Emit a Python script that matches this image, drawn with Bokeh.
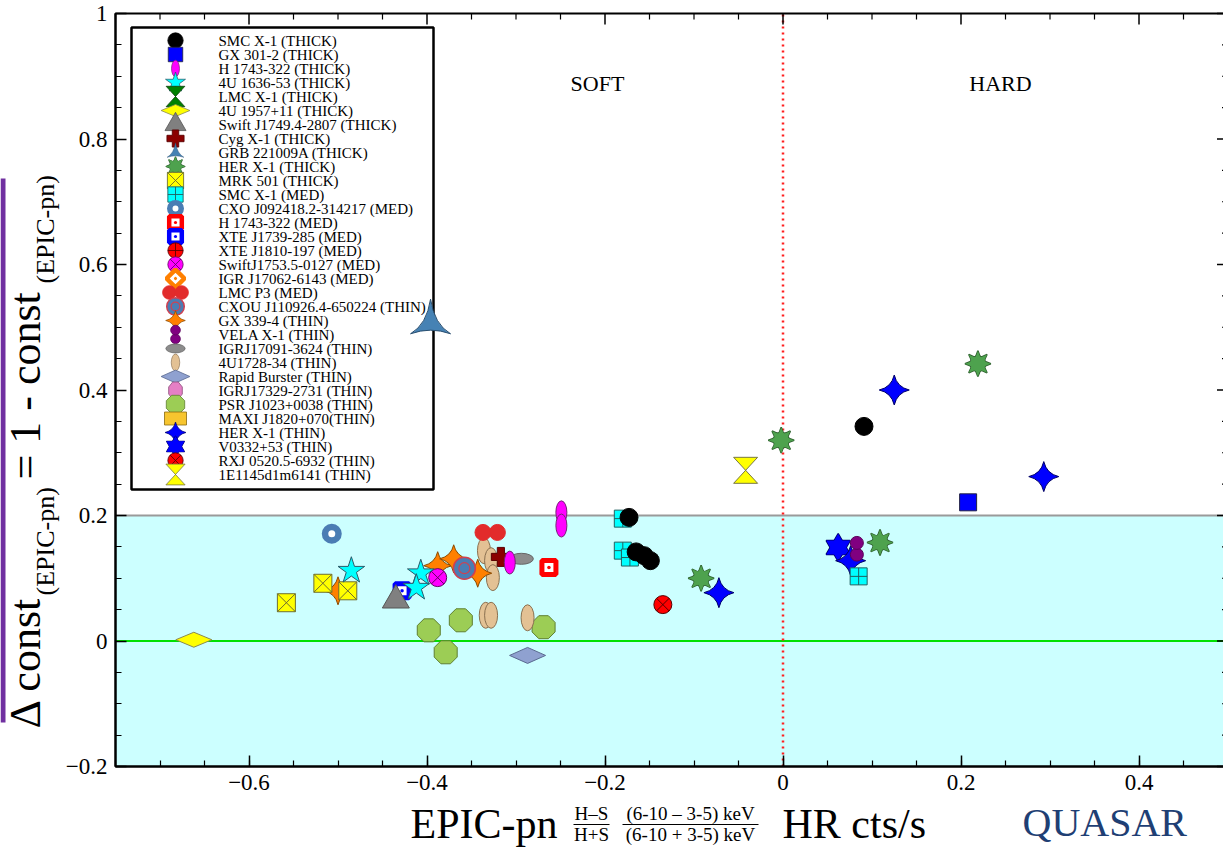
import numpy as np
from bokeh.plotting import figure
from bokeh.models import Range1d, FixedTicker, CustomJSTickFormatter
from bokeh.core.properties import value
from bokeh.embed import file_html
from bokeh.resources import INLINE

# ---------------- data (HR = x, DC = delta const = y) ----------------
X_TICKS = [-0.6, -0.4, -0.2, 0.0, 0.2, 0.4]
Y_TICKS = [-0.2, 0.0, 0.2, 0.4, 0.6, 0.8, 1.0]
X_LIMITS = [-0.75, 0.5]
Y_LIMITS = [-0.2, 1.0]
SOFT_HARD_LIMIT = 0.0
BAND_LIMITS = [-0.2, 0.2]

LEGEND_LABELS = [
    "SMC X-1 (THICK)", "GX 301-2 (THICK)", "H 1743-322 (THICK)", "4U 1636-53 (THICK)",
    " LMC X-1 (THICK)", "4U 1957+11 (THICK)", "Swift J1749.4-2807 (THICK)", "Cyg X-1 (THICK)",
    "GRB 221009A (THICK)", "HER X-1 (THICK)", "MRK 501 (THICK)", "SMC X-1 (MED)",
    "CXO J092418.2-314217 (MED)", "H 1743-322 (MED)", "XTE J1739-285 (MED)", "XTE J1810-197 (MED)",
    "SwiftJ1753.5-0127 (MED)", "IGR J17062-6143 (MED)", "LMC P3 (MED)",
    "CXOU J110926.4-650224 (THIN)", "GX 339-4 (THIN)", "VELA X-1 (THIN)", "IGRJ17091-3624 (THIN)",
    "4U1728-34 (THIN)", "Rapid Burster (THIN)", "IGRJ17329-2731 (THIN)", "PSR J1023+0038 (THIN)",
    "MAXI J1820+070(THIN)", "HER X-1 (THIN)", "V0332+53 (THIN)", "RXJ 0520.5-6932 (THIN)",
    "1E1145d1m6141 (THIN)",
]

SMCX1_THICK_HR = [-0.173, -0.165, -0.156, -0.149, 0.091]
SMCX1_THICK_DC = [0.197, 0.142, 0.136, 0.128, 0.342]
GX301_THICK_HR = [0.208]
GX301_THICK_DC = [0.221]
H1743_THICK_HR = [-0.249, -0.249, -0.307]
H1743_THICK_DC = [0.205, 0.184, 0.125]
U1636_THICK_HR = [-0.485, -0.407, -0.412]
U1636_THICK_DC = [0.112, 0.108, 0.085]
LMCX1_THICK_HR = []
LMCX1_THICK_DC = []
U1957_THICK_HR = [-0.662]
U1957_THICK_DC = [0.002]
SW1749_THICK_HR = [-0.435]
SW1749_THICK_DC = [0.065]
CYGX1_THICK_HR = [-0.317]
CYGX1_THICK_DC = [0.134]
GRB_THICK_HR = [-0.396]
GRB_THICK_DC = [0.508]
HERX1_THICK_HR = [-0.002, 0.219, -0.092, 0.109]
HERX1_THICK_DC = [0.320, 0.442, 0.100, 0.157]
MRK501_THICK_HR = [-0.558, -0.517, -0.489]
MRK501_THICK_DC = [0.061, 0.092, 0.080]
SMCX1_MED_HR = [-0.180, -0.180, -0.172, 0.085]
SMCX1_MED_DC = [0.195, 0.144, 0.133, 0.103]
CXO0924_MED_HR = [-0.507]
CXO0924_MED_DC = [0.171]
H1743_MED_HR = [-0.263]
H1743_MED_DC = [0.117]
XTE1739_MED_HR = [-0.428]
XTE1739_MED_DC = [0.080]
XTE1810_MED_HR = []
XTE1810_MED_DC = []
SW1753_MED_HR = [-0.388]
SW1753_MED_DC = [0.101]
IGR17062_MED_HR = []
IGR17062_MED_DC = []
LMCP3_MED_HR = [-0.329]
LMCP3_MED_DC = [0.173]
CXOU1109_THIN_HR = [-0.358]
CXOU1109_THIN_DC = [0.116]
GX339_THIN_HR = [-0.500, -0.388, -0.370, -0.343]
GX339_THIN_DC = [0.080, 0.120, 0.131, 0.108]
VELAX1_THIN_HR = [0.083]
VELAX1_THIN_DC = [0.147]
IGR17091_THIN_HR = [-0.294]
IGR17091_THIN_DC = [0.131]
U1728_THIN_HR = [-0.336, -0.328, -0.326, -0.334, -0.328, -0.287]
U1728_THIN_DC = [0.144, 0.128, 0.101, 0.041, 0.041, 0.037]
RAPID_THIN_HR = [-0.287]
RAPID_THIN_DC = [-0.023]
IGR17329_THIN_HR = []
IGR17329_THIN_DC = []
PSR1023_THIN_HR = [-0.398, -0.362, -0.379, -0.269]
PSR1023_THIN_DC = [0.017, 0.033, -0.018, 0.022]
MAXI1820_THIN_HR = [-0.426]
MAXI1820_THIN_DC = [0.083]
HERX1_THIN_HR = [0.125, 0.293, -0.072, 0.076]
HERX1_THIN_DC = [0.400, 0.262, 0.077, 0.128]
V0332_THIN_HR = [0.062]
V0332_THIN_DC = [0.149]
RXJ0520_THIN_HR = [-0.135]
RXJ0520_THIN_DC = [0.058]
E1145_THIN_HR = [-0.042]
E1145_THIN_DC = [0.272]

SERIES_HR = [SMCX1_THICK_HR, GX301_THICK_HR, H1743_THICK_HR, U1636_THICK_HR, LMCX1_THICK_HR,
             U1957_THICK_HR, SW1749_THICK_HR, CYGX1_THICK_HR, GRB_THICK_HR, HERX1_THICK_HR,
             MRK501_THICK_HR, SMCX1_MED_HR, CXO0924_MED_HR, H1743_MED_HR, XTE1739_MED_HR,
             XTE1810_MED_HR, SW1753_MED_HR, IGR17062_MED_HR, LMCP3_MED_HR, CXOU1109_THIN_HR,
             GX339_THIN_HR, VELAX1_THIN_HR, IGR17091_THIN_HR, U1728_THIN_HR, RAPID_THIN_HR,
             IGR17329_THIN_HR, PSR1023_THIN_HR, MAXI1820_THIN_HR, HERX1_THIN_HR, V0332_THIN_HR,
             RXJ0520_THIN_HR, E1145_THIN_HR]
SERIES_DC = [SMCX1_THICK_DC, GX301_THICK_DC, H1743_THICK_DC, U1636_THICK_DC, LMCX1_THICK_DC,
             U1957_THICK_DC, SW1749_THICK_DC, CYGX1_THICK_DC, GRB_THICK_DC, HERX1_THICK_DC,
             MRK501_THICK_DC, SMCX1_MED_DC, CXO0924_MED_DC, H1743_MED_DC, XTE1739_MED_DC,
             XTE1810_MED_DC, SW1753_MED_DC, IGR17062_MED_DC, LMCP3_MED_DC, CXOU1109_THIN_DC,
             GX339_THIN_DC, VELAX1_THIN_DC, IGR17091_THIN_DC, U1728_THIN_DC, RAPID_THIN_DC,
             IGR17329_THIN_DC, PSR1023_THIN_DC, MAXI1820_THIN_DC, HERX1_THIN_DC, V0332_THIN_DC,
             RXJ0520_THIN_DC, E1145_THIN_DC]

# ---------------- styles ----------------
STYLES = [
    dict(kind="circle", fill="black", line="black", size=18, lk=0.85),
    dict(kind="square", fill="#0000FF", line="#222244", size=17, lk=0.85),
    dict(kind="ellipse", fill="#FF00FF", line="#772277", w=11, h=23, lk=0.72),
    dict(kind="star", fill="#00FFFF", line="#2a5a6a", size=28, lk=0.75),
    dict(kind="hourglass", fill="#008000", line="#114411", w=22, h=24, lk=0.85),
    dict(kind="wdiamond", fill="#FFFF00", line="#8a8a50", w=36, h=15, lk=0.8),
    dict(kind="triangle", fill="#808080", line="#555555", size=27, lk=0.78),
    dict(kind="plus", fill="#8B0000", line="#5a0000", size=19, lk=0.9),
    dict(kind="triangle_pin", fill="#4682B4", line="#2a4f70", size=40, lk=0.42),
    dict(kind="star8", fill="#4EA24E", line="#2f5f2f", size=26, lk=0.75),
    dict(kind="square_x", fill="#FFFF00", line="#6e6e30", size=18, lk=0.9),
    dict(kind="square_cross", fill="#00FFFF", line="#206060", size=17, lk=0.9),
    dict(kind="ring", fill="white", line="#4A7DB4", size=13.5, lw=6.5, lk=0.85),
    dict(kind="hole_sq", fill="white", line="#FF0000", size=14, lw=5, lk=0.9),
    dict(kind="hole_sq", fill="white", line="#0000FF", size=14, lw=5, lk=0.9),
    dict(kind="circle_cross", fill="#FF0000", line="#550000", size=18, lk=0.85),
    dict(kind="circle_x", fill="#FF00FF", line="#660066", size=18, lk=0.85),
    dict(kind="hole_dm", fill="white", line="#FF8000", size=14, lw=5, lk=0.9),
    dict(kind="dcircle_h", fill="#E22B2B", line="#E22B2B", size=16, lk=0.85),
    dict(kind="cxou", fill="#4A7DB4", line="#D04050", size=22, lk=0.8),
    dict(kind="star4", fill="#FF8000", line="#8a4a00", size=28, lk=0.7),
    dict(kind="dcircle_v", fill="#800080", line="#4a004a", size=13, lk=0.75),
    dict(kind="ellipse", fill="#8C8C8C", line="#666666", w=24, h=11, lk=0.8),
    dict(kind="ellipse", fill="#E3C194", line="#8a7050", w=13, h=26, lk=0.65),
    dict(kind="wdiamond", fill="#8FA1D0", line="#5a6a90", w=36, h=16, lk=0.8),
    dict(kind="octagon", fill="#E57FC5", line="#905080", w=16, h=20, lk=0.85),
    dict(kind="octagon", fill="#9CCD55", line="#5f7f30", w=23, h=23, lk=0.8),
    dict(kind="rect", fill="#F7C52F", line="#8a6a10", w=11, h=10, lw_=22, lh_=13),
    dict(kind="star4", fill="#0000FF", line="#000066", size=30, lk=0.7),
    dict(kind="hexagram", fill="#0000FF", line="#000066", size=24, lk=0.75),
    dict(kind="circle_x", fill="#FF0000", line="#550000", size=18, lk=0.85),
    dict(kind="hourglass", fill="#FFFF00", line="#777744", w=24, h=26, lk=0.8),
]

# ---------------- geometry ----------------
# The frame covers the whole canvas; the plot box is drawn inside it with
# axes pinned to the box edges, so that titles can live on the same canvas.
CANVAS_W, CANVAS_H = 1223, 848
BOX_LEFT_PX, BOX_TOP_PX, BOX_BOTTOM_PX = 115, 13, 766
SX = 890.0                                    # px per HR unit
SY = (BOX_BOTTOM_PX - BOX_TOP_PX) / (Y_LIMITS[1] - Y_LIMITS[0])
XS = X_LIMITS[0] - BOX_LEFT_PX / SX
XE = XS + CANVAS_W / SX
YE = Y_LIMITS[1] + BOX_TOP_PX / SY
YS = YE - CANVAS_H / SY


def px2x(px):
    return XS + px / SX


def py2y(py):
    return YE - py / SY


p = figure(frame_width=CANVAS_W, frame_height=CANVAS_H,
           x_range=Range1d(XS, XE), y_range=Range1d(YS, YE),
           output_backend="svg", toolbar_location=None,
           min_border_left=0, min_border_right=0, min_border_top=0, min_border_bottom=0,
           background_fill_color="white", border_fill_color="white")
p.grid.visible = False
p.outline_line_color = None

fmt = CustomJSTickFormatter(code='return tick < 0 ? "\\u2212" + Math.abs(tick).toString() : tick.toString();')
x_minor = list(np.round(np.arange(-0.75, 0.5001, 0.05), 2))
y_minor = list(np.round(np.arange(-0.2, 1.0001, 0.05), 2))
p.xaxis.ticker = FixedTicker(ticks=X_TICKS, minor_ticks=x_minor)
p.yaxis.ticker = FixedTicker(ticks=Y_TICKS, minor_ticks=y_minor)
p.xaxis.fixed_location = Y_LIMITS[0]
p.yaxis.fixed_location = X_LIMITS[0]
p.xaxis.bounds = tuple(X_LIMITS)
p.yaxis.bounds = tuple(Y_LIMITS)
for ax in (p.xaxis[0], p.yaxis[0]):
    ax.major_tick_in = 11
    ax.major_tick_out = 0
    ax.minor_tick_in = 6
    ax.minor_tick_out = 0
    ax.axis_line_width = 2
    ax.axis_line_color = "black"
    ax.major_tick_line_width = 1.5
    ax.minor_tick_line_width = 1.2
    ax.major_label_text_font = "Liberation Serif"
    ax.major_label_text_font_size = "23px"
    ax.major_label_text_color = "black"
    ax.major_label_standoff = 8
    ax.formatter = fmt

# background band and reference lines
p.quad(left=[X_LIMITS[0]], right=[X_LIMITS[1]], bottom=[BAND_LIMITS[0]], top=[BAND_LIMITS[1]],
       fill_color="#CCFFFF", line_color=None)
p.segment(x0=[X_LIMITS[0]], x1=[X_LIMITS[1]], y0=[BAND_LIMITS[1]], y1=[BAND_LIMITS[1]],
          line_color="#9a9a9a", line_width=2)
p.segment(x0=[X_LIMITS[0]], x1=[X_LIMITS[1]], y0=[0.0], y1=[0.0], line_color="#00E000", line_width=2)
p.segment(x0=[SOFT_HARD_LIMIT], x1=[SOFT_HARD_LIMIT], y0=[Y_LIMITS[0]], y1=[Y_LIMITS[1]],
          line_color="#FF2020", line_width=2.5, line_dash="2 4")

# plot box and mirrored ticks on top / right
p.quad(left=[X_LIMITS[0]], right=[X_LIMITS[1]], bottom=[Y_LIMITS[0]], top=[Y_LIMITS[1]],
       fill_alpha=0, line_color="black", line_width=2)
top_minor = [t for t in x_minor if t not in X_TICKS]
p.segment(x0=X_TICKS, x1=X_TICKS, y0=[Y_LIMITS[1]] * len(X_TICKS),
          y1=[Y_LIMITS[1] - 11 / SY] * len(X_TICKS), line_color="black", line_width=1.5)
p.segment(x0=top_minor, x1=top_minor, y0=[Y_LIMITS[1]] * len(top_minor),
          y1=[Y_LIMITS[1] - 6 / SY] * len(top_minor), line_color="black", line_width=1.2)
r_minor = [t for t in y_minor if t not in Y_TICKS]
p.segment(x0=[X_LIMITS[1]] * len(Y_TICKS), x1=[X_LIMITS[1] - 11 / SX] * len(Y_TICKS), y0=Y_TICKS,
          y1=Y_TICKS, line_color="black", line_width=1.5)
p.segment(x0=[X_LIMITS[1]] * len(r_minor), x1=[X_LIMITS[1] - 6 / SX] * len(r_minor), y0=r_minor,
          y1=r_minor, line_color="black", line_width=1.2)


def poly_verts(kind, w, h):
    if kind == "hourglass":
        return [(-w / 2, h / 2), (w / 2, h / 2), (-w / 2, -h / 2), (w / 2, -h / 2)]
    if kind == "wdiamond":
        return [(-w / 2, 0), (0, h / 2), (w / 2, 0), (0, -h / 2)]
    if kind == "octagon":
        c = np.cos(np.pi / 8)
        return [(w / 2 / c * np.cos(np.pi / 8 + k * np.pi / 4), h / 2 / c * np.sin(np.pi / 8 + k * np.pi / 4))
                for k in range(8)]
    return []


SIMPLE = {"circle", "square", "star", "triangle", "plus", "triangle_pin", "square_x",
          "square_cross", "circle_x", "circle_cross"}


def draw(st, xs, ys, k=1.0, legend=False):
    xs = np.asarray(xs, float)
    ys = np.asarray(ys, float)
    if xs.size == 0:
        return
    kind, fc, lc = st["kind"], st["fill"], st["line"]
    lw = st.get("lw", 1.0) * (k if k < 1 else 1)
    s = st.get("size", 0) * k
    w = st.get("w", 0) * k
    h = st.get("h", 0) * k
    if legend and "lw_" in st:
        w, h = st["lw_"], st["lh_"]
    if kind in SIMPLE:
        p.scatter(xs, ys, marker=kind, size=s, fill_color=fc, line_color=lc, line_width=lw)
    elif kind == "ellipse":
        p.ellipse(xs, ys, width=w, height=h, width_units="screen", height_units="screen",
                  fill_color=fc, line_color=lc, line_width=lw)
    elif kind == "rect":
        p.rect(xs, ys, width=w, height=h, width_units="screen", height_units="screen",
               fill_color=fc, line_color=lc, line_width=lw)
    elif kind == "ring":
        p.scatter(xs, ys, marker="circle", size=s, fill_color=fc, line_color=lc, line_width=lw)
    elif kind == "hole_sq":
        p.scatter(xs, ys, marker="square_dot", size=s, fill_color=fc, line_color=lc, line_width=lw)
    elif kind == "hole_dm":
        p.scatter(xs, ys, marker="square_dot", size=s, angle=np.pi / 4, fill_color=fc,
                  line_color=lc, line_width=lw)
    elif kind == "dcircle_h":
        for off in (-1, 1):
            p.scatter(xs + off * s * 0.45 / SX, ys, marker="circle", size=s, fill_color=fc,
                      line_color=lc, line_width=lw)
    elif kind == "dcircle_v":
        for off in (-1, 1):
            p.scatter(xs, ys + off * s * 0.45 / SY, marker="circle", size=s, fill_color=fc,
                      line_color="#5a005a", line_width=lw)
    elif kind == "cxou":
        p.scatter(xs, ys, marker="circle", size=s, fill_color=fc, line_color=lc, line_width=1.5)
        p.scatter(xs, ys, marker="circle", size=s * 0.5, fill_alpha=0, line_color=lc, line_width=1.2)
    elif kind == "star4":
        p.scatter(xs, ys, marker="square_pin", size=s / 1.414, angle=np.pi / 4, fill_color=fc,
                  line_color=lc, line_width=lw)
    elif kind == "star8":
        for a in (0, np.pi / 4):
            p.scatter(xs, ys, marker="square_pin", size=s / 1.414, angle=a, fill_color=fc,
                      line_color=lc, line_width=lw * 1.5)
        for a in (0, np.pi / 4):
            p.scatter(xs, ys, marker="square_pin", size=s / 1.414, angle=a, fill_color=fc,
                      line_color=None)
    elif kind == "hexagram":
        for m in ("triangle", "inverted_triangle"):
            p.scatter(xs, ys, marker=m, size=s, fill_color=fc, line_color=lc, line_width=lw * 1.5)
        for m in ("triangle", "inverted_triangle"):
            p.scatter(xs, ys, marker=m, size=s, fill_color=fc, line_color=None)
    else:
        verts = poly_verts(kind, w, h)
        pxs = [[x + vx / SX for vx, vy in verts] for x in xs]
        pys = [[y + vy / SY for vx, vy in verts] for y in ys]
        p.patches(pxs, pys, fill_color=fc, line_color=lc, line_width=lw)


FONT = value("Liberation Serif")


def txt(px, py, s, fs, align="left", angle=0.0, color="black"):
    # (px, py) is the vertical middle of the text line
    p.text(x=[px2x(px)], y=[py2y(py)], text=[s], angle=angle, text_font=FONT,
           text_font_size=f"{fs}px", text_color=color, text_align=align, text_baseline="middle")


# slide accent bar on the far left
p.segment(x0=[px2x(2.5)], x1=[px2x(2.5)], y0=[py2y(178)], y1=[py2y(722)],
          line_color="#7030A0", line_width=5)

# region labels
txt(597, 83, "SOFT", 22, align="center")
txt(1000, 83, "HARD", 22, align="center")

# legend box (the GRB marker sits on top of its edge)
p.quad(left=[px2x(131)], right=[px2x(433)], top=[py2y(27)], bottom=[py2y(489)],
       fill_color="white", line_color="black", line_width=2.5)

# data points (earlier legend entries on top)
for i in reversed(range(len(LEGEND_LABELS))):
    draw(STYLES[i], SERIES_HR[i], SERIES_DC[i])

# legend entries (drawn by hand so that the markers keep their size)
row_y = [py2y(40 + 14 * i) for i in range(len(LEGEND_LABELS))]
mx = px2x(175)
for i, st in enumerate(STYLES):
    draw(st, [mx], [row_y[i]], k=st.get("lk", 0.8), legend=True)
p.text(x=[px2x(218)] * len(LEGEND_LABELS), y=row_y, text=LEGEND_LABELS,
       text_font=FONT, text_font_size="15px", text_color="black",
       text_align="left", text_baseline="middle")

# ---------------- axis titles ----------------
txt(410, 823, "EPIC-pn", 42)
for cx, num, den, half in ((591, "H\u2013S", "H+S", 18),
                           (690, "(6-10 \u2013 3-5) keV", "(6-10 + 3-5) keV", 68)):
    txt(cx, 813, num, 19, align="center")
    txt(cx, 834, den, 19, align="center")
    p.segment(x0=[px2x(cx - half)], x1=[px2x(cx + half)], y0=[py2y(824)], y1=[py2y(824)],
              line_color="black", line_width=1.2)
txt(782, 823, "HR cts/s", 42)

y_pieces = [("\u0394 const", 44, 25, 133), ("(EPIC-pn)", 26, 45, 116),
            (" = 1 - const", 44, 25, 196), ("(EPIC-pn)", 26, 45, 111)]
ypos = 728
for s, fs, cxp, wlen in y_pieces:
    txt(cxp, ypos, s, fs, angle=np.pi / 2)
    ypos -= wlen

txt(1022, 822, "QUASAR", 40, color="#1F3F74")

with open("out.html", "w", encoding="utf-8") as f:
    f.write(file_html(p, INLINE))
